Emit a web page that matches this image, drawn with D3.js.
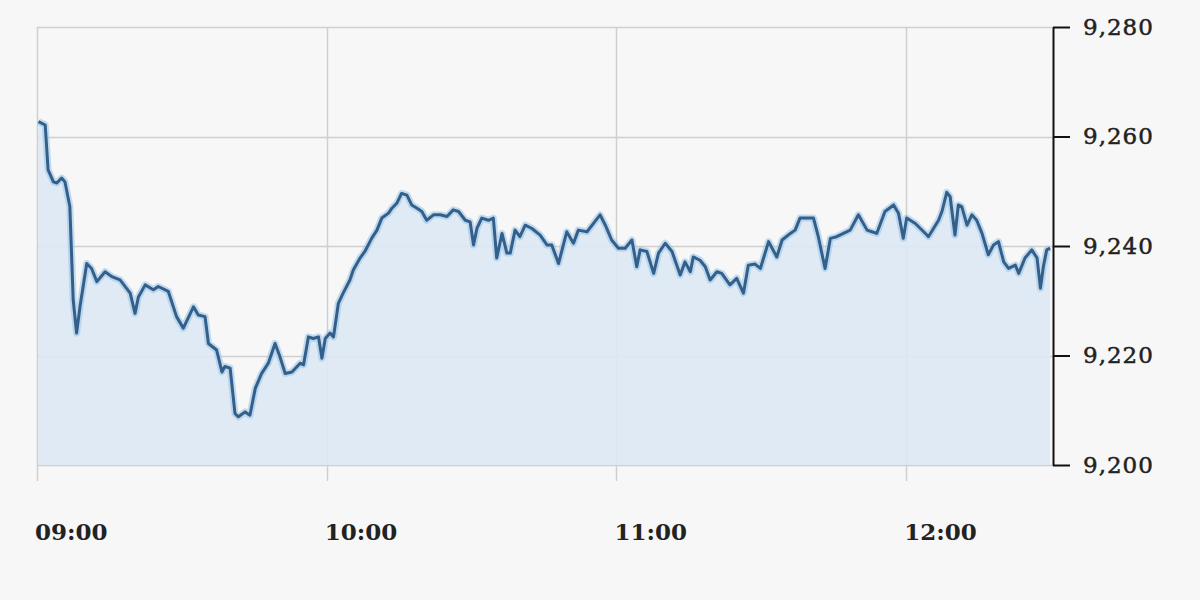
<!DOCTYPE html>
<html>
<head>
<meta charset="utf-8">
<script src="https://cdn.jsdelivr.net/npm/d3@7"></script>
<style>
  html, body { margin: 0; padding: 0; background: #f7f7f7; }
  svg { display: block; }
</style>
</head>
<body>
<div id="chart"></div>
<script>
// minutes after 09:00 and index level
const minutes = [
  0.3, 1.7, 2.3, 3.4, 4.1, 5.1, 5.8, 6.8, 7.5, 8.2, 8.9, 10.3, 11.3, 12.4, 14.1, 15.5, 17.2, 19.3,
  20.3, 21.0, 22.4, 24.1, 25.1, 27.2, 28.9, 30.3, 32.4, 33.4, 34.8, 35.5, 37.2, 38.3, 38.9, 40.0,
  41.0, 41.7, 43.1, 44.1, 45.2, 46.5, 47.9, 49.3, 50.3, 51.4, 52.8, 54.5, 55.2, 56.2, 57.2, 58.3,
  59.0, 59.7, 60.7, 61.4, 62.4, 63.4, 64.8, 65.5, 66.9, 67.9, 69.3, 70.4, 71.4, 72.8, 73.5, 74.5,
  75.5, 76.6, 77.6, 78.7, 79.7, 80.7, 82.1, 83.5, 84.9, 86.2, 87.3, 88.7, 89.7, 90.4, 91.1, 92.1,
  93.5, 94.5, 95.2, 96.3, 97.3, 98.0, 99.0, 100.0, 101.1, 102.5, 104.2, 105.6, 106.6, 108.0, 109.7,
  111.1, 112.1, 113.9, 115.2, 116.6, 117.7, 119.0, 120.4, 121.8, 123.2, 124.2, 124.9, 126.3, 127.7,
  128.7, 130.1, 131.5, 133.2, 134.2, 135.3, 135.9, 137.3, 138.4, 139.4, 140.8, 141.8, 143.5, 144.9,
  146.3, 147.3, 148.7, 149.8, 151.5, 153.2, 154.3, 156.0, 157.0, 158.0, 159.8, 160.8, 161.8, 163.2,
  164.3, 165.6, 167.0, 168.4, 170.1, 171.9, 172.9, 173.9, 175.6, 177.4, 178.4, 179.4, 180.1, 181.9,
  184.3, 184.6, 186.7, 187.4, 188.4, 189.1, 190.1, 190.8, 191.5, 192.6, 193.6, 194.6, 195.7, 197.0,
  198.1, 199.1, 200.2, 201.2, 202.6, 203.3, 204.6, 206.0, 207.1, 207.8, 208.4, 209.1, 209.8
];
const values = [
  9262.7, 9262.1, 9253.9, 9251.7, 9251.5, 9252.4, 9251.7, 9247.2, 9230.1, 9224.1, 9228.9, 9236.8,
  9235.9, 9233.5, 9235.3, 9234.4, 9233.8, 9231.4, 9227.7, 9230.7, 9232.9, 9232.0, 9232.6, 9231.7,
  9227.1, 9225.0, 9228.9, 9227.4, 9227.1, 9222.2, 9221.0, 9217.0, 9218.0, 9217.7, 9209.4, 9208.8,
  9209.7, 9209.1, 9214.0, 9216.7, 9218.6, 9222.2, 9219.8, 9216.7, 9217.0, 9218.6, 9218.3, 9223.4,
  9223.1, 9223.4, 9219.5, 9223.1, 9224.1, 9223.4, 9229.5, 9231.4, 9233.8, 9235.6, 9237.8, 9239.0,
  9241.4, 9242.9, 9245.1, 9246.0, 9246.9, 9247.8, 9249.6, 9249.3, 9247.5, 9246.9, 9246.3, 9244.7,
  9245.7, 9245.7, 9245.4, 9246.6, 9246.3, 9244.7, 9244.4, 9240.2, 9243.2, 9245.1, 9244.7, 9245.1,
  9237.8, 9242.3, 9238.7, 9238.7, 9242.9, 9241.7, 9243.8, 9243.2, 9242.0, 9240.2, 9240.2, 9236.8,
  9242.6, 9240.5, 9242.9, 9242.6, 9244.1, 9245.7, 9243.8, 9241.1, 9239.6, 9239.6, 9241.1, 9236.2,
  9239.3, 9239.0, 9235.0, 9238.7, 9240.5, 9239.0, 9234.7, 9237.1, 9235.3, 9238.0, 9237.4, 9236.2,
  9233.8, 9235.3, 9235.0, 9232.9, 9234.1, 9231.4, 9236.5, 9236.7, 9235.9, 9240.8, 9238.0, 9241.1,
  9242.3, 9242.9, 9245.1, 9245.1, 9245.1, 9241.7, 9235.9, 9241.4, 9241.7, 9242.3, 9242.9, 9245.7,
  9242.9, 9242.6, 9242.3, 9246.3, 9247.5, 9246.0, 9241.4, 9245.1, 9244.1, 9242.0, 9241.7, 9244.7,
  9246.3, 9249.8, 9249.0, 9242.0, 9247.5, 9247.2, 9243.8, 9245.7, 9244.7, 9242.3, 9238.4, 9240.2,
  9240.8, 9237.1, 9235.9, 9236.5, 9235.0, 9237.8, 9239.3, 9237.8, 9232.3, 9236.2, 9239.3, 9239.6
];
const yTicks = [9200, 9220, 9240, 9260, 9280];
const xTickLabels = ["09:00", "10:00", "11:00", "12:00"];

const width = 1200, height = 600;
const margin = { left: 37, right: 1053, top: 27, bottom: 465 };
const day = new Date(2020, 0, 2, 9, 0, 0);
const at = m => new Date(day.getTime() + m * 60000);

const data = minutes.map((m, i) => ({ t: at(m), v: values[i] }));
const xTicks = xTickLabels.map((s, i) => at(i * 60));

const x = d3.scaleTime().domain([at(0), at(210.4)]).range([margin.left, margin.right]);
const y = d3.scaleLinear().domain([9200, 9280]).range([margin.bottom, margin.top]);

const svg = d3.select("#chart").append("svg")
    .attr("width", width)
    .attr("height", height);

svg.append("rect").attr("width", width).attr("height", height).attr("fill", "#f7f7f7");

// grid
const grid = svg.append("g");
grid.selectAll("line.h").data(yTicks).enter().append("line")
    .attr("x1", margin.left).attr("x2", margin.right)
    .attr("y1", d => Math.round(y(d)) + 0.5).attr("y2", d => Math.round(y(d)) + 0.5)
    .attr("stroke", "#cfcfcf").attr("stroke-width", 1.5);
grid.selectAll("line.v").data(xTicks).enter().append("line")
    .attr("x1", d => Math.round(x(d)) + 0.5).attr("x2", d => Math.round(x(d)) + 0.5)
    .attr("y1", margin.top).attr("y2", margin.bottom + 16)
    .attr("stroke", "#cfcfcf").attr("stroke-width", 1.5);

// area + line
const area = d3.area().x(d => x(d.t)).y0(y(9200)).y1(d => y(d.v));
const line = d3.line().x(d => x(d.t)).y(d => y(d.v));

svg.append("path").datum(data).attr("d", area)
    .attr("fill", "#dce8f3").attr("fill-opacity", 0.9);
svg.append("path").datum(data).attr("d", line)
    .attr("fill", "none").attr("stroke", "#9cc6e8").attr("stroke-width", 7)
    .attr("stroke-linejoin", "round").attr("stroke-opacity", 0.6);
svg.append("path").datum(data).attr("d", line)
    .attr("fill", "none").attr("stroke", "#345f8a").attr("stroke-width", 3)
    .attr("stroke-linejoin", "round");

// y axis on the right
const yAxis = svg.append("g")
    .attr("transform", "translate(" + margin.right + ",0)")
    .call(d3.axisRight(y).tickValues(yTicks).tickSize(17).tickPadding(13)
      .tickFormat(d3.format(",")).tickSizeOuter(0));
yAxis.select(".domain").attr("stroke", "#111").attr("stroke-width", 2);
yAxis.selectAll(".tick line").attr("stroke", "#111").attr("stroke-width", 2);
yAxis.selectAll("text")
    .attr("fill", "#222")
    .attr("stroke", "#222")
    .attr("stroke-width", 0.5)
    .style("font-family", "'DejaVu Serif', Georgia, serif")
    .style("font-size", "23px")
    .style("letter-spacing", "1px");

// x labels
svg.append("g").selectAll("text").data(xTicks).enter().append("text")
    .attr("x", d => x(d) - 2)
    .attr("y", 540)
    .attr("fill", "#222")
    .style("font-family", "'DejaVu Serif', Georgia, serif")
    .style("font-size", "23px")
    .style("font-weight", "bold")
    .text((d, i) => xTickLabels[i]);
</script>
</body>
</html>
